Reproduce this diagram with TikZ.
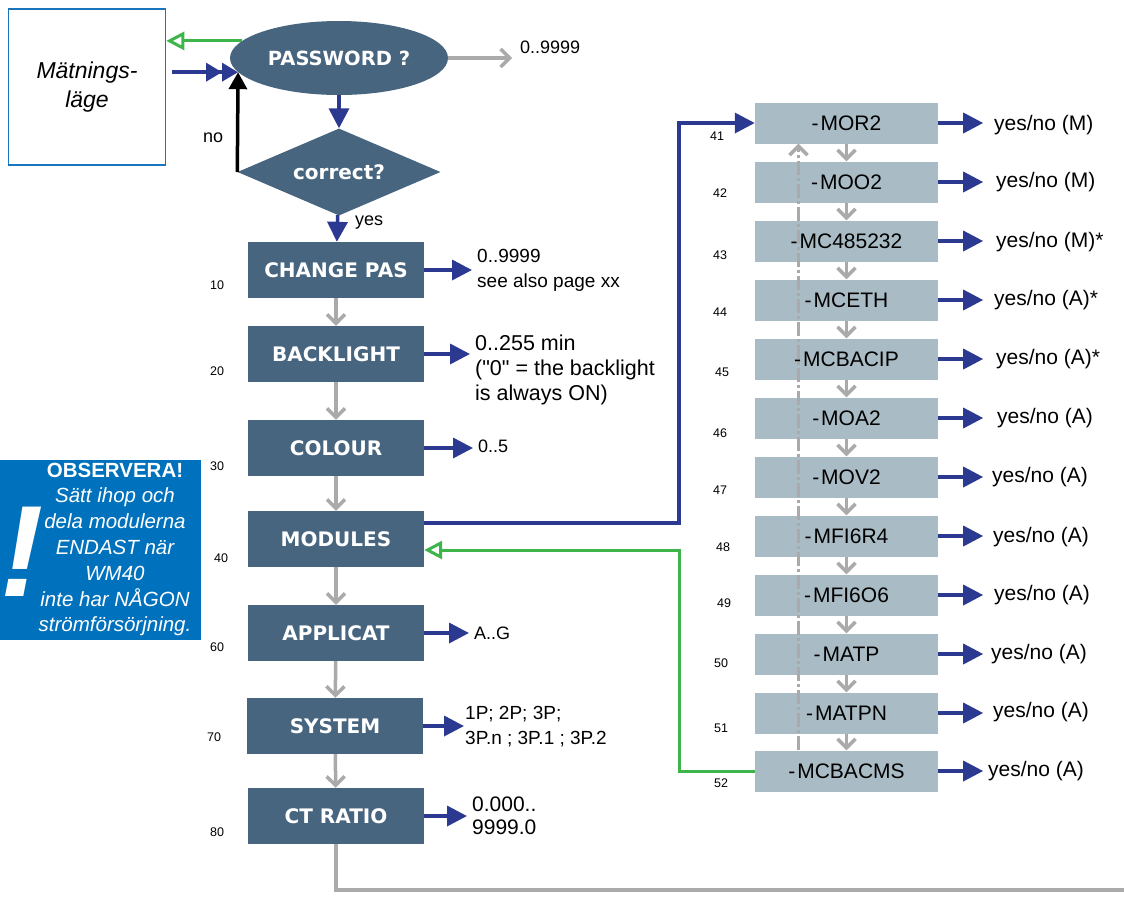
\documentclass[tikz,border=0pt]{standalone}
\usepackage{fontspec}
\setmainfont{Liberation Sans}
\newfontfamily\boxfont{DejaVu Sans}
\usetikzlibrary{shapes.geometric,arrows.meta}

\definecolor{boxblue}{RGB}{72,101,128}
\definecolor{modgray}{RGB}{169,187,196}
\definecolor{navy}{RGB}{43,57,144}
\definecolor{lgray}{RGB}{170,170,170}
\definecolor{okgreen}{RGB}{61,181,74}
\definecolor{obsblue}{RGB}{0,113,188}
\definecolor{frameblue}{RGB}{27,117,188}

\begin{document}
\begin{tikzpicture}[x=1pt,y=-1pt,
	meny/.style={fill=boxblue, minimum width=176pt, minimum height=56pt, inner sep=0pt, text=white, font=\boxfont\bfseries\fontsize{20}{24}\selectfont},
	modul/.style={fill=modgray, minimum width=183pt, minimum height=41pt, inner sep=0pt, font=\fontsize{21}{24}\selectfont},
	nr/.style={font=\fontsize{12.5}{14}\selectfont},
	val/.style={anchor=west, inner xsep=0pt, align=left, font=\fontsize{19}{25}\selectfont},
	seta/.style={-{Triangle[length=20pt,width=20pt]}, line width=3.5pt, navy},
	gseta/.style={-{Straight Barb[length=9pt,width=18pt]}, line width=3.5pt, lgray}
	]
	\useasboundingbox (0,0) rectangle (1124,898);

	% start
	\node[draw=frameblue, line width=1.5pt, minimum width=157pt, minimum height=156pt, align=center, font=\itshape\fontsize{23}{29}\selectfont] (mb) at (87,87) {Mätnings-\\läge};
	\node[ellipse, fill=boxblue, minimum width=218pt, minimum height=74pt, inner sep=0pt, text=white, font=\boxfont\bfseries\fontsize{19.5}{24}\selectfont] (pw) at (339,58) {PASSWORD ?};
	\node[diamond, aspect=2.33, fill=boxblue, minimum width=203pt, minimum height=87pt, inner sep=0pt, text=white, font=\boxfont\bfseries\fontsize{20}{24}\selectfont] (q) at (339,172) {correct?};
	\node[val, font=\fontsize{18}{22}\selectfont] (v0) at (520,47) {0..9999};
	\node[val, font=\fontsize{18}{22}\selectfont] (no) at (203,138) {no};
	\node[val, font=\fontsize{18}{22}\selectfont] (yes) at (355,223) {yes};

	\draw[-{Triangle[open,length=18pt,width=18pt]}, line width=3pt, okgreen] (pw.170) -- (pw.170 -| mb.east);
	\draw[-{Triangle[length=16pt,width=18pt] Triangle[length=16pt,width=18pt]}, line width=3.5pt, navy, shorten <=6pt] (pw.188 -| mb.east) -- (pw.188);
	\draw[-{Triangle[length=17pt,width=18pt]}, line width=3.5pt, black] (q.west) -- (pw.188);
	\draw[gseta, shorten >=8pt] (pw.east) -- (pw.east -| v0.west);
	\draw[seta] (pw) -- (q);

	% meny
	\node[meny] (b10) at (336,270) {CHANGE PAS};
	\node[meny] (b20) at (336,354) {BACKLIGHT};
	\node[meny] (b30) at (336,448) {COLOUR};
	\node[meny] (b40) at (336,539) {MODULES};
	\node[meny] (b60) at (336,633) {APPLICAT};
	\node[meny] (b70) at (335,726) {SYSTEM};
	\node[meny] (b80) at (336,816) {CT RATIO};
	\draw[seta] (q) -- (b10);

	\node[nr] (n10) at (217,285) {10};
	\node[nr] (n20) at (217,371) {20};
	\node[nr] (n30) at (217,466) {30};
	\node[nr] (n40) at (221,558) {40};
	\node[nr] (n60) at (217,647) {60};
	\node[nr] (n70) at (214,737) {70};
	\node[nr] (n80) at (217,832) {80};

	\node[val] (v10) at (477,270) {0..9999\\see also page xx};
	\node[val, font=\fontsize{21.5}{25}\selectfont] (v20) at (475,370) {0..255 min\\(\textquotedbl 0\textquotedbl{} = the backlight\\is always ON)};
	\node[val, font=\fontsize{18}{22}\selectfont] (v30) at (478,446) {0..5};
	\node[val, font=\fontsize{18}{22}\selectfont] (v60) at (474,633) {A..G};
	\node[val] (v70) at (465,727) {1P; 2P; 3P;\\3P.n ; 3P.1 ; 3P.2};
	\node[val, font=\fontsize{21}{23}\selectfont] (v80) at (472,816) {0.000..\\9999.0};

	\draw[gseta] (b10) -- (b20);
	\draw[gseta] (b20) -- (b30);
	\draw[gseta] (b30) -- (b40);
	\draw[gseta] (b40) -- (b60);
	\draw[gseta] (b60) -- (b70);
	\draw[gseta] (b70) -- (b80);

	\draw[seta, shorten >=5pt] (b10.east) -- (b10.east -| v10.west);
	\draw[seta, shorten >=5pt] (b20.east) -- (b20.east -| v20.west);
	\draw[seta, shorten >=5pt] (b30.east) -- (b30.east -| v30.west);
	\draw[seta, shorten >=5pt] (b60.east) -- (b60.east -| v60.west);
	\draw[seta, shorten >=1pt] (b70.east) -- (b70.east -| v70.west);
	\draw[seta, shorten >=5pt] (b80.east) -- (b80.east -| v80.west);

	\coordinate (ut) at (1124,890);
	\draw[line width=3.5pt, lgray] (b80.south) |- (ut);

	% observera
	\node[fill=obsblue, minimum width=201pt, minimum height=180pt] (obs) at (100.5,550) {};
	\node[text=white, inner sep=0pt, font=\bfseries\itshape\fontsize{130}{130}\selectfont] (bang) at (22,552) {!};
	\node[text=white, align=center, font=\itshape\fontsize{20.5}{25.8}\selectfont] (obstxt) at (115,549.5) {{\upshape\bfseries OBSERVERA!}\\Sätt ihop och\\dela modulerna\\ENDAST när\\WM40\\inte har NÅGON\\strömförsörjning.};

	% moduler
	\node[modul] (m41) at (846.5,123) {-\kern2pt MOR2};
	\node[modul] (m42) at (846.5,182) {-\kern2pt MOO2};
	\node[modul] (m43) at (846.5,241) {-\kern2pt MC485232};
	\node[modul] (m44) at (846.5,300) {-\kern2pt MCETH};
	\node[modul] (m45) at (846.5,359) {-\kern2pt MCBACIP};
	\node[modul] (m46) at (846.5,418) {-\kern2pt MOA2};
	\node[modul] (m47) at (846.5,477) {-\kern2pt MOV2};
	\node[modul] (m48) at (846.5,536) {-\kern2pt MFI6R4};
	\node[modul] (m49) at (846.5,595) {-\kern2pt MFI6O6};
	\node[modul] (m50) at (846.5,654) {-\kern2pt MATP};
	\node[modul] (m51) at (846.5,713) {-\kern2pt MATPN};
	\node[modul] (m52) at (846.5,771) {-\kern2pt MCBACMS};

	\node[nr] (n41) at (717,136) {41};
	\node[nr] (n42) at (720,193) {42};
	\node[nr] (n43) at (720,255) {43};
	\node[nr] (n44) at (720,312) {44};
	\node[nr] (n45) at (722,372) {45};
	\node[nr] (n46) at (720,433) {46};
	\node[nr] (n47) at (720,490) {47};
	\node[nr] (n48) at (723,547) {48};
	\node[nr] (n49) at (724,603) {49};
	\node[nr] (n50) at (721,663) {50};
	\node[nr] (n51) at (721,728) {51};
	\node[nr] (n52) at (721,783) {52};

	\node[val, font=\fontsize{21}{24}\selectfont] (y41) at (994,125) {yes/no (M)};
	\node[val, font=\fontsize{21}{24}\selectfont] (y42) at (996,182) {yes/no (M)};
	\node[val, font=\fontsize{21}{24}\selectfont] (y43) at (996,242) {yes/no (M)*};
	\node[val, font=\fontsize{21}{24}\selectfont] (y44) at (994,300) {yes/no (A)*};
	\node[val, font=\fontsize{21}{24}\selectfont] (y45) at (996,359) {yes/no (A)*};
	\node[val, font=\fontsize{21}{24}\selectfont] (y46) at (997,418) {yes/no (A)};
	\node[val, font=\fontsize{21}{24}\selectfont] (y47) at (992,477) {yes/no (A)};
	\node[val, font=\fontsize{21}{24}\selectfont] (y48) at (993,537) {yes/no (A)};
	\node[val, font=\fontsize{21}{24}\selectfont] (y49) at (994,595) {yes/no (A)};
	\node[val, font=\fontsize{21}{24}\selectfont] (y50) at (991,654) {yes/no (A)};
	\node[val, font=\fontsize{21}{24}\selectfont] (y51) at (993,712) {yes/no (A)};
	\node[val, font=\fontsize{21}{24}\selectfont] (y52) at (988,771) {yes/no (A)};

	\draw[seta] (m41.east) -- ([xshift=45pt]m41.east);
	\draw[seta] (m42.east) -- ([xshift=45pt]m42.east);
	\draw[seta] (m43.east) -- ([xshift=45pt]m43.east);
	\draw[seta] (m44.east) -- ([xshift=45pt]m44.east);
	\draw[seta] (m45.east) -- ([xshift=45pt]m45.east);
	\draw[seta] (m46.east) -- ([xshift=45pt]m46.east);
	\draw[seta] (m47.east) -- ([xshift=45pt]m47.east);
	\draw[seta] (m48.east) -- ([xshift=45pt]m48.east);
	\draw[seta] (m49.east) -- ([xshift=45pt]m49.east);
	\draw[seta] (m50.east) -- ([xshift=45pt]m50.east);
	\draw[seta] (m51.east) -- ([xshift=45pt]m51.east);
	\draw[seta] (m52.east) -- ([xshift=45pt]m52.east);

	\draw[gseta] (m41) -- (m42);
	\draw[gseta] (m42) -- (m43);
	\draw[gseta] (m43) -- (m44);
	\draw[gseta] (m44) -- (m45);
	\draw[gseta] (m45) -- (m46);
	\draw[gseta] (m46) -- (m47);
	\draw[gseta] (m47) -- (m48);
	\draw[gseta] (m48) -- (m49);
	\draw[gseta] (m49) -- (m50);
	\draw[gseta] (m50) -- (m51);
	\draw[gseta] (m51) -- (m52);
	\draw[gseta, dash pattern=on 14pt off 3pt on 3pt off 3pt] ([xshift=-48pt]m52.north) -- ([xshift=-48pt]m41.south);

	% in och ut ur moduler
	\draw[seta] ([yshift=16pt]b40.east) -- ++(255,0) |- (m41.west);
	\draw[-{Triangle[open,length=18pt,width=18pt]}, line width=3pt, okgreen] (m52.west) -- ++(-75,0) |- ([yshift=-11pt]b40.east);
\end{tikzpicture}
\end{document}
